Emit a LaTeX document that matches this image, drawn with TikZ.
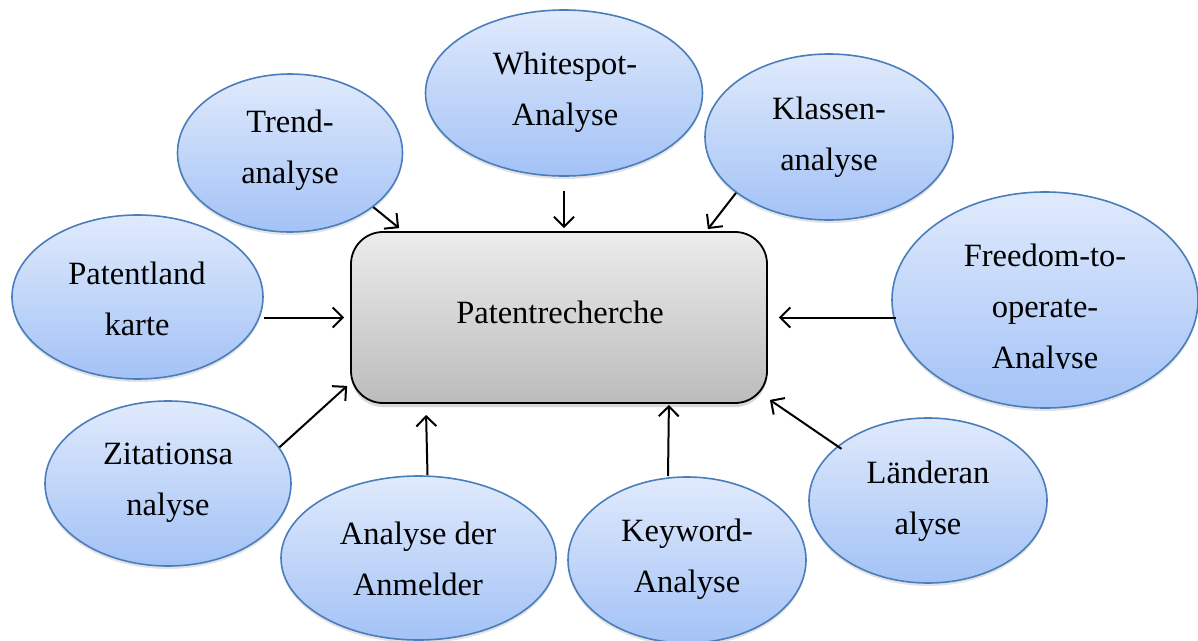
\documentclass[tikz,border=0pt]{standalone}
\usepackage{fontspec}
\setmainfont{Liberation Serif}
\usetikzlibrary{shapes.geometric,arrows.meta,shadows,calc}
\definecolor{ellborder}{HTML}{4A7EBB}
\definecolor{elltop}{HTML}{E0EAFC}
\definecolor{ellbot}{HTML}{A3C2F6}
\definecolor{recttop}{HTML}{ECECEC}
\definecolor{rectbot}{HTML}{BCBCBC}
\tikzset{
  bubble/.style={ellipse, draw=ellborder, line width=1.6pt, top color=elltop, bottom color=ellbot,
    inner sep=0pt, drop shadow={opacity=0.22, shadow xshift=0pt, shadow yshift=-3pt}},
  txt/.style={align=center, font=\fontsize{32.5}{51}\selectfont, inner sep=0pt},
  mainbox/.style={rectangle, rounded corners=32pt, draw=black, line width=1.8pt,
    top color=recttop, bottom color=rectbot, minimum width=416pt, minimum height=171pt,
    drop shadow={opacity=0.3, shadow xshift=0pt, shadow yshift=-4pt}},
  arr/.style={line width=2pt, -{Straight Barb[length=10pt,width=20pt,line width=2pt]}}
}
\begin{document}
\begin{tikzpicture}[x=1pt,y=-1pt]
\useasboundingbox (0,0) rectangle (1198,640);
\fill[white] (0,0) rectangle (1198,640);
% central box
\node[mainbox] (rect) at (559,317.5) {};
\node[txt] (rect-t) at (560,312) {Patentrecherche};
% ellipses
\node[bubble, minimum width=277pt, minimum height=166pt] (white) at (564,93) {};
\node[bubble, minimum width=225pt, minimum height=158pt] (trend) at (290,153) {};
\node[bubble, minimum width=248pt, minimum height=166pt] (klass) at (829,137) {};
\node[bubble, minimum width=251pt, minimum height=164pt] (patent) at (137.5,297) {};
\node[bubble, minimum width=306pt, minimum height=216pt] (freedom) at (1045,300) {};
\node[bubble, minimum width=246pt, minimum height=165pt] (zit) at (168,483.5) {};
\node[bubble, minimum width=275pt, minimum height=164pt] (anm) at (418.5,558) {};
\node[bubble, minimum width=238pt, minimum height=166pt] (kw) at (687,560) {};
\node[bubble, minimum width=238pt, minimum height=165pt] (land) at (928,500.5) {};
% texts
\node[txt] (white-t) at (565,92) {Whitespot-\\Analyse};
\node[txt] (trend-t) at (290,150) {Trend-\\analyse};
\node[txt] (klass-t) at (829,137) {Klassen-\\analyse};
\node[txt] (patent-t) at (137,299) {Patentland\\karte};
\begin{scope}
\clip (880,180) rectangle (1198,368);
\node[txt] (freedom-t) at (1045,310) {Freedom-to-\\operate-\\Analyse};
\end{scope}
\node[txt] (zit-t) at (168,483) {Zitationsa\\nalyse};
\node[txt] (anm-t) at (418,559) {Analyse der\\Anmelder};
\node[txt] (kw-t) at (687,559) {Keyword-\\Analyse};
\node[txt] (land-t) at (928,501) {Länderan\\alyse};
% arrows
\draw[arr] (trend.-33.2) -- ([xshift=49pt,yshift=3pt]rect.north west);
\draw[arr, shorten <=14pt] (white.south) -- ([xshift=5pt,yshift=3pt]rect.north);
\draw[arr] (klass.-149.2) -- ([xshift=-60pt,yshift=2pt]rect.north east);
\draw[arr] (patent.east |- rect.west) -- ([xshift=-6pt]rect.west);
\draw[arr, shorten <=-5pt] (freedom.west |- rect.east) -- ([xshift=11pt]rect.east);
\draw[arr] (zit.18.7) -- ([xshift=-3pt,yshift=18pt]rect.south west);
\draw[arr] ([xshift=9pt]anm.north) -- ([xshift=76pt,yshift=-11pt]rect.south west);
\draw[arr] ([xshift=-19pt]kw.north) -- ([xshift=-99pt,yshift=-1pt]rect.south east);
\draw[arr, shorten <=-5pt] (land.149.3) -- ([xshift=2pt,yshift=4pt]rect.south east);
\end{tikzpicture}
\end{document}
